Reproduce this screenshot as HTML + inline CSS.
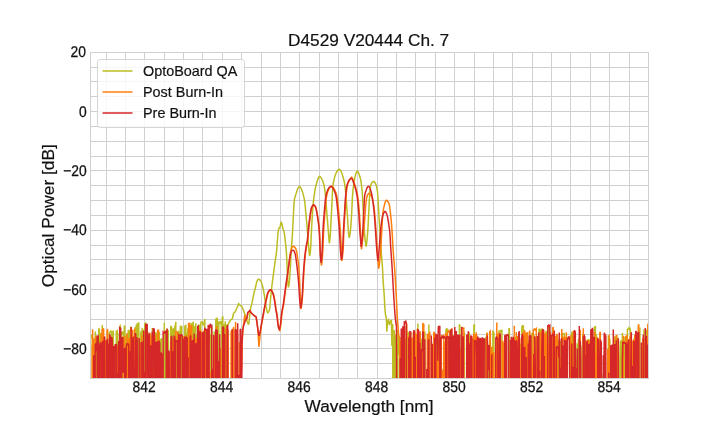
<!DOCTYPE html>
<html lang="en"><head><meta charset="utf-8"><title>D4529 V20444 Ch. 7</title>
<style>html,body{margin:0;padding:0;background:#fff;overflow:hidden}svg{display:block}</style></head>
<body>
<svg width="720" height="432" viewBox="0 0 720 432">
<defs><clipPath id="ax"><rect x="90.0" y="51.84" width="558.0" height="326.15999999999997"/></clipPath></defs>
<rect width="720" height="432" fill="#ffffff"/>
<path d="M106.5 51.84V378.0M125.5 51.84V378.0M144.5 51.84V378.0M164.5 51.84V378.0M183.5 51.84V378.0M202.5 51.84V378.0M222.5 51.84V378.0M241.5 51.84V378.0M261.5 51.84V378.0M280.5 51.84V378.0M299.5 51.84V378.0M319.5 51.84V378.0M338.5 51.84V378.0M357.5 51.84V378.0M377.5 51.84V378.0M396.5 51.84V378.0M415.5 51.84V378.0M435.5 51.84V378.0M454.5 51.84V378.0M474.5 51.84V378.0M493.5 51.84V378.0M512.5 51.84V378.0M532.5 51.84V378.0M551.5 51.84V378.0M570.5 51.84V378.0M590.5 51.84V378.0M609.5 51.84V378.0M629.5 51.84V378.0M90.0 363.5H648.0M90.0 348.5H648.0M90.0 334.5H648.0M90.0 319.5H648.0M90.0 304.5H648.0M90.0 289.5H648.0M90.0 274.5H648.0M90.0 259.5H648.0M90.0 245.5H648.0M90.0 230.5H648.0M90.0 215.5H648.0M90.0 200.5H648.0M90.0 185.5H648.0M90.0 170.5H648.0M90.0 156.5H648.0M90.0 141.5H648.0M90.0 126.5H648.0M90.0 111.5H648.0M90.0 96.5H648.0M90.0 81.5H648.0M90.0 67.5H648.0" stroke="#d0d0d0" stroke-width="1" fill="none" shape-rendering="crispEdges"/>
<g clip-path="url(#ax)" fill="none" stroke-width="1.5" stroke-linejoin="miter" stroke-miterlimit="3" stroke-linecap="butt">
<path stroke="#bcbd22" d="M89.30 335.69L89.80 336.09L90.30 334.52L90.80 335.19L91.30 338.49L91.80 337.25L92.30 335.16L92.80 700.00L93.30 700.00L93.80 340.29L94.30 339.38L94.80 700.00L95.30 331.57L95.80 700.00L96.30 336.30L96.80 336.77L97.30 339.07L97.80 700.00L98.30 700.00L98.80 328.22L99.30 329.46L99.80 700.00L100.30 332.92L100.80 335.90L101.30 334.16L101.80 700.00L102.30 324.97L102.80 369.39L103.30 328.60L103.80 700.00L104.30 700.00L104.80 700.00L105.30 700.00L105.80 700.00L106.30 339.89L106.80 342.46L107.30 700.00L107.80 331.47L108.30 700.00L108.80 700.00L109.30 700.00L109.80 332.26L110.30 331.85L110.80 330.40L111.30 332.44L111.80 331.21L112.30 700.00L112.80 700.00L113.30 330.58L113.80 700.00L114.30 700.00L114.80 700.00L115.30 373.40L115.80 700.00L116.30 331.34L116.80 331.37L117.30 330.79L117.80 700.00L118.30 371.99L118.80 700.00L119.30 332.96L119.80 700.00L120.30 324.51L120.80 700.00L121.30 333.78L121.80 331.78L122.30 334.40L122.80 332.09L123.30 332.25L123.80 700.00L124.30 326.27L124.80 326.57L125.30 700.00L125.80 338.06L126.30 335.96L126.80 334.61L127.30 336.78L127.80 700.00L128.30 329.64L128.80 333.30L129.30 331.08L129.80 331.79L130.30 700.00L130.80 326.62L131.30 700.00L131.80 700.00L132.30 332.51L132.80 700.00L133.30 338.37L133.80 339.33L134.30 335.60L134.80 700.00L135.30 327.07L135.80 700.00L136.30 324.66L136.80 325.61L137.30 323.28L137.80 700.00L138.30 700.00L138.80 322.30L139.30 700.00L139.80 700.00L140.30 700.00L140.80 331.29L141.30 700.00L141.80 332.09L142.30 328.84L142.80 329.34L143.30 700.00L143.80 331.69L144.30 700.00L144.80 324.38L145.30 324.72L145.80 322.53L146.30 700.00L146.80 333.23L147.30 331.93L147.80 332.16L148.30 700.00L148.80 337.31L149.30 335.60L149.80 335.63L150.30 700.00L150.80 700.00L151.30 335.88L151.80 700.00L152.30 327.88L152.80 700.00L153.30 336.23L153.80 335.98L154.30 700.00L154.80 332.28L155.30 361.55L155.80 700.00L156.30 333.20L156.80 333.47L157.30 700.00L157.80 335.37L158.30 334.02L158.80 700.00L159.30 332.11L159.80 700.00L160.30 342.41L160.80 339.75L161.30 339.95L161.80 338.02L162.30 700.00L162.80 700.00L163.30 700.00L163.80 700.00L164.30 322.64L164.80 700.00L165.30 700.00L165.80 331.61L166.30 331.42L166.80 329.83L167.30 330.65L167.80 331.76L168.30 330.09L168.80 700.00L169.30 700.00L169.80 700.00L170.30 700.00L170.80 325.82L171.30 327.08L171.80 327.79L172.30 700.00L172.80 329.79L173.30 329.13L173.80 329.64L174.30 700.00L174.80 325.56L175.30 328.08L175.80 321.72L176.30 700.00L176.80 700.00L177.30 336.15L177.80 333.64L178.30 330.85L178.80 332.23L179.30 334.72L179.80 700.00L180.30 325.86L180.80 700.00L181.30 329.07L181.80 325.77L182.30 700.00L182.80 700.00L183.30 338.29L183.80 338.86L184.30 700.00L184.80 326.89L185.30 325.62L185.80 325.36L186.30 700.00L186.80 332.82L187.30 361.98L187.80 329.03L188.30 328.23L188.80 330.85L189.30 327.74L189.80 700.00L190.30 700.00L190.80 700.00L191.30 323.87L191.80 324.15L192.30 323.60L192.80 700.00L193.30 321.56L193.80 700.00L194.30 328.77L194.80 326.11L195.30 700.00L195.80 323.21L196.30 700.00L196.80 334.63L197.30 700.00L197.80 700.00L198.30 327.77L198.80 700.00L199.30 324.53L199.80 371.02L200.30 700.00L200.80 323.19L201.30 321.78L201.80 322.00L202.30 322.19L202.80 324.41L203.30 324.14L203.80 324.81L204.30 321.72L204.80 319.08L205.30 700.00L205.80 330.35L206.30 329.72L206.80 700.00L207.30 335.67L207.80 337.20L208.30 336.50L208.80 337.69L209.30 338.12L209.80 335.68L210.30 335.87L210.80 700.00L211.30 326.26L211.80 326.75L212.30 700.00L212.80 700.00L213.30 700.00L213.80 700.00L214.30 331.52L214.80 700.00L215.30 700.00L215.80 318.54L216.30 700.00L216.80 317.79L217.30 318.77L217.80 700.00L218.30 700.00L218.80 321.55L219.30 322.23L219.80 322.13L220.30 323.99L220.80 321.83L221.30 322.25L221.80 700.00L222.30 317.33L222.80 317.10L223.30 700.00L223.80 325.11L224.30 325.58L224.80 328.39L225.30 321.40L225.80 700.00L226.30 700.00L226.80 325.08L227.70 325.00L230.60 320.00L232.50 318.50L233.50 313.30L235.20 311.70L236.80 308.30L238.70 303.75L240.20 305.40L241.80 306.25L243.10 309.20L244.30 312.50L245.60 316.70L247.25 321.70L248.50 324.60L248.90 322.66L249.30 320.03L249.69 316.11L250.09 311.86L250.49 309.18L250.89 307.18L251.29 305.68L251.68 304.36L252.08 302.66L252.48 300.70L252.88 298.63L253.28 296.57L253.67 294.65L254.07 292.91L254.47 291.27L254.87 289.68L255.26 288.12L255.66 286.55L256.06 284.85L256.46 282.97L256.86 281.39L257.25 280.56L257.65 279.99L258.05 279.55L258.45 279.27L258.85 279.21L259.24 279.34L259.64 279.63L260.04 280.01L260.44 280.44L260.84 281.08L261.23 281.99L261.63 283.11L262.03 284.39L262.43 285.75L262.83 287.25L263.22 289.05L263.62 291.09L264.02 293.27L264.42 295.64L264.81 298.46L265.21 301.42L265.61 304.12L266.01 306.27L266.41 308.22L266.80 309.98L267.20 311.52L267.60 312.80L268.00 312.64L268.40 312.18L268.81 311.45L269.21 310.47L269.61 309.27L270.01 306.03L270.41 300.75L270.82 295.85L271.22 292.00L271.62 288.41L272.02 284.99L272.42 281.74L272.83 278.62L273.23 275.56L273.63 272.53L274.03 269.57L274.43 266.64L274.83 263.71L275.24 260.83L275.64 258.19L276.04 255.49L276.44 252.38L276.84 248.34L277.25 242.47L277.65 237.20L278.05 232.58L278.45 229.99L278.85 228.55L279.26 227.65L279.66 227.18L280.06 226.74L280.46 225.38L280.86 222.93L281.27 222.40L281.67 223.32L282.07 224.69L282.47 226.77L282.87 228.92L283.27 229.78L283.68 230.51L284.08 231.92L284.48 234.06L284.88 237.11L285.28 241.19L285.69 244.70L286.09 248.19L286.49 253.80L286.89 262.28L287.29 271.05L287.70 280.26L288.10 285.20L288.50 287.40L288.90 285.49L289.30 282.47L289.69 277.77L290.09 271.74L290.49 265.12L290.89 256.93L291.29 249.43L291.68 244.10L292.08 238.83L292.48 232.96L292.88 225.68L293.28 217.45L293.68 209.28L294.07 203.27L294.47 199.47L294.87 197.58L295.27 196.25L295.67 194.93L296.06 193.63L296.46 192.40L296.86 191.23L297.26 190.06L297.66 189.01L298.05 188.21L298.45 187.51L298.85 186.89L299.25 186.48L299.65 186.43L300.05 186.76L300.44 187.34L300.84 188.03L301.24 188.75L301.64 189.65L302.04 190.71L302.43 191.88L302.83 193.13L303.23 194.57L303.63 196.19L304.03 197.91L304.42 199.84L304.82 202.42L305.22 206.39L305.62 211.00L306.02 215.26L306.42 219.35L306.81 223.52L307.21 227.96L307.61 233.00L308.01 238.59L308.41 243.89L308.80 248.36L309.20 252.41L309.60 256.00L310.00 254.47L310.40 250.83L310.81 245.45L311.21 236.17L311.61 228.01L312.01 220.77L312.41 214.13L312.82 207.90L313.22 203.08L313.62 199.63L314.02 196.59L314.42 193.84L314.83 191.16L315.23 188.86L315.63 187.03L316.03 185.43L316.43 183.97L316.84 182.57L317.24 181.13L317.64 179.76L318.04 178.63L318.44 177.83L318.85 177.10L319.25 176.57L319.65 176.40L320.05 176.59L320.46 177.00L320.86 177.53L321.26 178.08L321.66 178.72L322.06 179.50L322.47 180.41L322.87 181.44L323.27 182.64L323.67 184.06L324.07 185.73L324.48 187.75L324.88 190.46L325.28 193.82L325.68 198.27L326.08 203.32L326.49 208.66L326.89 213.76L327.29 218.37L327.69 223.14L328.09 228.35L328.50 233.45L328.90 238.41L329.30 243.25L329.70 241.50L330.10 237.40L330.49 232.08L330.89 223.38L331.29 215.78L331.69 208.74L332.09 199.64L332.48 191.00L332.88 185.80L333.28 183.18L333.68 181.10L334.08 179.37L334.47 177.84L334.87 176.41L335.27 175.13L335.67 174.08L336.07 173.19L336.46 172.40L336.86 171.69L337.26 171.00L337.66 170.38L338.06 169.95L338.45 169.63L338.85 169.38L339.25 169.30L339.65 169.46L340.05 169.80L340.44 170.24L340.84 170.86L341.24 171.79L341.64 172.79L342.04 173.83L342.43 174.99L342.83 176.26L343.23 177.68L343.63 179.21L344.03 180.79L344.42 182.51L344.82 184.81L345.22 188.26L345.62 192.26L346.02 196.91L346.41 202.14L346.81 207.48L347.21 212.71L347.61 218.51L348.01 225.63L348.40 231.17L348.80 235.14L349.20 237.80L349.60 236.45L350.00 234.01L350.41 230.94L350.81 226.66L351.21 220.83L351.61 214.16L352.02 206.01L352.42 197.27L352.82 191.99L353.22 188.13L353.63 185.03L354.03 182.40L354.43 180.10L354.83 177.96L355.24 175.92L355.64 174.27L356.04 173.20L356.44 172.27L356.85 171.57L357.25 171.25L357.65 171.44L358.05 172.00L358.45 172.72L358.86 173.59L359.26 174.74L359.66 175.99L360.06 177.30L360.47 178.85L360.87 180.88L361.27 183.45L361.67 186.80L362.08 190.80L362.48 195.69L362.88 203.48L363.28 212.38L363.69 220.23L364.09 227.55L364.49 233.06L364.89 237.59L365.30 241.55L365.70 244.65L366.10 246.60L366.50 244.47L366.90 241.13L367.29 236.89L367.69 232.10L368.09 225.79L368.49 217.89L368.89 209.98L369.28 201.51L369.68 194.88L370.08 190.07L370.48 187.07L370.88 185.18L371.27 183.78L371.67 182.94L372.07 182.46L372.47 182.05L372.87 181.74L373.26 181.55L373.66 181.50L374.06 181.66L374.46 182.02L374.86 182.54L375.25 183.18L375.65 183.92L376.05 184.79L376.45 186.13L376.85 187.89L377.25 190.07L377.64 193.25L378.04 198.05L378.44 206.31L378.84 214.19L379.24 220.49L379.63 226.38L380.03 232.51L380.43 239.28L380.83 246.19L381.23 252.45L381.62 257.43L382.02 261.79L382.42 266.80L382.82 274.24L383.22 282.25L383.61 287.55L384.01 292.33L384.41 298.86L384.81 307.10L385.21 312.11L385.60 315.02L386.00 317.05L386.40 318.30L386.80 331.70L387.60 321.50L388.50 320.00L389.30 325.00L390.30 321.50L391.40 320.00L391.90 346.00L392.70 324.00L393.50 700.00L394.30 330.00L395.00 700.00L395.70 335.00L396.20 700.00L396.90 344.27L397.40 700.00L397.90 330.06L398.40 354.73L398.90 335.87L399.40 337.75L399.90 337.09L400.40 700.00L400.90 700.00L401.40 344.47L401.90 342.91L402.40 343.65L402.90 700.00L403.40 700.00L403.90 373.28L404.40 342.14L404.90 700.00L405.40 381.50L405.90 338.34L406.40 700.00L406.90 700.00L407.40 700.00L407.90 332.38L408.40 332.76L408.90 361.05L409.40 700.00L409.90 340.37L410.40 700.00L410.90 700.00L411.40 340.94L411.90 339.49L412.40 340.82L412.90 340.87L413.40 700.00L413.90 336.40L414.40 336.62L414.90 700.00L415.40 700.00L415.90 334.58L416.40 372.59L416.90 700.00L417.40 700.00L417.90 323.46L418.40 700.00L418.90 700.00L419.40 700.00L419.90 700.00L420.40 700.00L420.90 700.00L421.40 340.50L421.90 339.10L422.40 352.59L422.90 332.79L423.40 334.79L423.90 700.00L424.40 700.00L424.90 331.39L425.40 700.00L425.90 700.00L426.40 700.00L426.90 700.00L427.40 700.00L427.90 700.00L428.40 700.00L428.90 324.56L429.40 700.00L429.90 700.00L430.40 700.00L430.90 700.00L431.40 700.00L431.90 700.00L432.40 700.00L432.90 700.00L433.40 700.00L433.90 700.00L434.40 700.00L434.90 700.00L435.40 700.00L435.90 700.00L436.40 339.12L436.90 338.83L437.40 700.00L437.90 700.00L438.40 700.00L438.90 700.00L439.40 343.95L439.90 343.79L440.40 356.97L440.90 700.00L441.40 700.00L441.90 700.00L442.40 700.00L442.90 381.29L443.40 380.89L443.90 700.00L444.40 700.00L444.90 700.00L445.40 700.00L445.90 330.05L446.40 329.24L446.90 329.42L447.40 328.40L447.90 700.00L448.40 345.94L448.90 700.00L449.40 700.00L449.90 331.73L450.40 329.51L450.90 700.00L451.40 339.97L451.90 339.58L452.40 338.52L452.90 700.00L453.40 335.43L453.90 700.00L454.40 339.51L454.90 700.00L455.40 700.00L455.90 700.00L456.40 700.00L456.90 337.40L457.40 700.00L457.90 700.00L458.40 700.00L458.90 700.00L459.40 325.01L459.90 325.36L460.40 700.00L460.90 700.00L461.40 700.00L461.90 340.63L462.40 700.00L462.90 369.41L463.40 700.00L463.90 700.00L464.40 332.31L464.90 700.00L465.40 700.00L465.90 700.00L466.40 700.00L466.90 700.00L467.40 700.00L467.90 700.00L468.40 700.00L468.90 332.53L469.40 333.06L469.90 700.00L470.40 341.85L470.90 700.00L471.40 700.00L471.90 375.03L472.40 700.00L472.90 700.00L473.40 700.00L473.90 325.13L474.40 324.89L474.90 700.00L475.40 700.00L475.90 700.00L476.40 338.47L476.90 700.00L477.40 700.00L477.90 700.00L478.40 700.00L478.90 700.00L479.40 700.00L479.90 700.00L480.40 700.00L480.90 700.00L481.40 700.00L481.90 700.00L482.40 700.00L482.90 700.00L483.40 370.80L483.90 700.00L484.40 700.00L484.90 700.00L485.40 338.47L485.90 337.00L486.40 700.00L486.90 332.85L487.40 700.00L487.90 700.00L488.40 347.46L488.90 700.00L489.40 344.10L489.90 700.00L490.40 342.57L490.90 700.00L491.40 700.00L491.90 700.00L492.40 700.00L492.90 331.33L493.40 331.65L493.90 332.94L494.40 700.00L494.90 700.00L495.40 700.00L495.90 700.00L496.40 700.00L496.90 700.00L497.40 700.00L497.90 700.00L498.40 700.00L498.90 331.14L499.40 331.12L499.90 331.58L500.40 329.91L500.90 331.43L501.40 330.63L501.90 330.53L502.40 700.00L502.90 700.00L503.40 700.00L503.90 700.00L504.40 352.69L504.90 350.97L505.40 700.00L505.90 342.36L506.40 342.90L506.90 700.00L507.40 700.00L507.90 700.00L508.40 700.00L508.90 327.90L509.40 329.46L509.90 700.00L510.40 700.00L510.90 360.71L511.40 700.00L511.90 700.00L512.40 337.65L512.90 700.00L513.40 337.51L513.90 700.00L514.40 338.01L514.90 700.00L515.40 338.82L515.90 337.83L516.40 338.87L516.90 700.00L517.40 353.74L517.90 700.00L518.40 700.00L518.90 700.00L519.40 700.00L519.90 700.00L520.40 343.80L520.90 346.10L521.40 357.08L521.90 326.50L522.40 325.95L522.90 328.15L523.40 325.31L523.90 700.00L524.40 370.92L524.90 700.00L525.40 345.91L525.90 345.36L526.40 345.46L526.90 344.09L527.40 700.00L527.90 700.00L528.40 340.07L528.90 700.00L529.40 700.00L529.90 700.00L530.40 335.95L530.90 337.12L531.40 700.00L531.90 332.80L532.40 334.44L532.90 334.13L533.40 335.87L533.90 334.21L534.40 700.00L534.90 700.00L535.40 337.79L535.90 700.00L536.40 700.00L536.90 700.00L537.40 364.36L537.90 336.35L538.40 366.01L538.90 329.43L539.40 329.30L539.90 329.33L540.40 330.60L540.90 700.00L541.40 358.06L541.90 328.32L542.40 700.00L542.90 340.28L543.40 700.00L543.90 340.96L544.40 700.00L544.90 363.74L545.40 384.09L545.90 330.96L546.40 332.30L546.90 700.00L547.40 375.46L547.90 327.37L548.40 326.98L548.90 327.64L549.40 327.25L549.90 700.00L550.40 700.00L550.90 700.00L551.40 700.00L551.90 700.00L552.40 700.00L552.90 700.00L553.40 700.00L553.90 700.00L554.40 368.24L554.90 361.50L555.40 357.65L555.90 342.37L556.40 342.72L556.90 340.76L557.40 340.56L557.90 339.85L558.40 340.83L558.90 382.26L559.40 342.21L559.90 342.92L560.40 342.01L560.90 342.80L561.40 700.00L561.90 700.00L562.40 334.03L562.90 334.36L563.40 333.72L563.90 333.54L564.40 334.45L564.90 700.00L565.40 700.00L565.90 700.00L566.40 700.00L566.90 374.60L567.40 336.82L567.90 700.00L568.40 700.00L568.90 700.00L569.40 700.00L569.90 365.12L570.40 700.00L570.90 700.00L571.40 334.39L571.90 332.61L572.40 333.45L572.90 700.00L573.40 372.71L573.90 342.76L574.40 342.83L574.90 342.96L575.40 342.12L575.90 363.67L576.40 700.00L576.90 700.00L577.40 343.28L577.90 700.00L578.40 339.86L578.90 339.00L579.40 700.00L579.90 700.00L580.40 700.00L580.90 345.87L581.40 700.00L581.90 700.00L582.40 700.00L582.90 333.78L583.40 700.00L583.90 700.00L584.40 700.00L584.90 700.00L585.40 700.00L585.90 700.00L586.40 700.00L586.90 375.43L587.40 700.00L587.90 339.35L588.40 340.08L588.90 700.00L589.40 339.32L589.90 700.00L590.40 700.00L590.90 700.00L591.40 700.00L591.90 700.00L592.40 700.00L592.90 350.86L593.40 700.00L593.90 700.00L594.40 327.20L594.90 327.04L595.40 325.96L595.90 700.00L596.40 334.04L596.90 700.00L597.40 700.00L597.90 359.23L598.40 342.51L598.90 342.79L599.40 343.02L599.90 700.00L600.40 700.00L600.90 366.86L601.40 700.00L601.90 374.47L602.40 700.00L602.90 700.00L603.40 700.00L603.90 700.00L604.40 700.00L604.90 700.00L605.40 700.00L605.90 700.00L606.40 700.00L606.90 384.94L607.40 700.00L607.90 700.00L608.40 335.46L608.90 700.00L609.40 338.48L609.90 339.68L610.40 700.00L610.90 700.00L611.40 700.00L611.90 700.00L612.40 700.00L612.90 700.00L613.40 700.00L613.90 700.00L614.40 361.79L614.90 336.23L615.40 337.21L615.90 379.34L616.40 700.00L616.90 374.78L617.40 337.39L617.90 339.75L618.40 700.00L618.90 700.00L619.40 700.00L619.90 359.60L620.40 341.54L620.90 341.78L621.40 341.25L621.90 700.00L622.40 332.89L622.90 700.00L623.40 700.00L623.90 345.61L624.40 700.00L624.90 337.34L625.40 337.14L625.90 363.82L626.40 342.31L626.90 700.00L627.40 329.33L627.90 329.12L628.40 329.19L628.90 328.02L629.40 328.92L629.90 328.39L630.40 329.89L630.90 700.00L631.40 348.50L631.90 349.84L632.40 700.00L632.90 700.00L633.40 340.53L633.90 338.64L634.40 700.00L634.90 345.04L635.40 344.17L635.90 700.00L636.40 700.00L636.90 700.00L637.40 700.00L637.90 334.57L638.40 336.07L638.90 334.97L639.40 700.00L639.90 327.49L640.40 700.00L640.90 700.00L641.40 700.00L641.90 700.00L642.40 700.00L642.90 700.00L643.40 700.00L643.90 329.22L644.40 700.00L644.90 343.10L645.40 343.92L645.90 700.00L646.40 329.83L646.90 330.82L647.40 329.76L647.90 329.76L648.40 700.00L648.90 700.00"/>
<path stroke="#ff7f0e" d="M89.60 342.97L90.10 342.90L90.60 345.60L91.10 700.00L91.60 700.00L92.10 700.00L92.60 329.14L93.10 700.00L93.60 338.02L94.10 700.00L94.60 700.00L95.10 700.00L95.60 335.93L96.10 700.00L96.60 700.00L97.10 700.00L97.60 700.00L98.10 700.00L98.60 347.79L99.10 700.00L99.60 373.55L100.10 700.00L100.60 700.00L101.10 333.47L101.60 700.00L102.10 329.20L102.60 330.21L103.10 328.77L103.60 329.08L104.10 700.00L104.60 700.00L105.10 342.48L105.60 341.29L106.10 342.48L106.60 700.00L107.10 330.74L107.60 328.94L108.10 700.00L108.60 700.00L109.10 700.00L109.60 700.00L110.10 700.00L110.60 700.00L111.10 700.00L111.60 700.00L112.10 337.76L112.60 700.00L113.10 700.00L113.60 700.00L114.10 351.28L114.60 700.00L115.10 700.00L115.60 700.00L116.10 700.00L116.60 363.43L117.10 346.72L117.60 361.52L118.10 700.00L118.60 700.00L119.10 700.00L119.60 700.00L120.10 700.00L120.60 700.00L121.10 339.23L121.60 339.40L122.10 340.74L122.60 700.00L123.10 700.00L123.60 700.00L124.10 337.10L124.60 336.18L125.10 700.00L125.60 700.00L126.10 349.61L126.60 700.00L127.10 332.90L127.60 700.00L128.10 700.00L128.60 339.37L129.10 337.74L129.60 358.42L130.10 700.00L130.60 329.50L131.10 328.73L131.60 330.77L132.10 330.60L132.60 330.52L133.10 700.00L133.60 700.00L134.10 700.00L134.60 328.54L135.10 700.00L135.60 700.00L136.10 359.93L136.60 700.00L137.10 384.47L137.60 700.00L138.10 700.00L138.60 700.00L139.10 700.00L139.60 700.00L140.10 344.64L140.60 343.59L141.10 700.00L141.60 335.23L142.10 700.00L142.60 700.00L143.10 354.18L143.60 700.00L144.10 700.00L144.60 700.00L145.10 700.00L145.60 700.00L146.10 700.00L146.60 361.60L147.10 336.12L147.60 337.22L148.10 340.31L148.60 337.23L149.10 358.17L149.60 332.64L150.10 334.27L150.60 335.50L151.10 700.00L151.60 361.93L152.10 339.20L152.60 700.00L153.10 700.00L153.60 700.00L154.10 700.00L154.60 700.00L155.10 334.98L155.60 700.00L156.10 700.00L156.60 372.66L157.10 700.00L157.60 329.82L158.10 331.86L158.60 329.41L159.10 700.00L159.60 700.00L160.10 700.00L160.60 700.00L161.10 700.00L161.60 370.30L162.10 700.00L162.60 700.00L163.10 700.00L163.60 700.00L164.10 700.00L164.60 700.00L165.10 700.00L165.60 700.00L166.10 700.00L166.60 700.00L167.10 700.00L167.60 377.72L168.10 700.00L168.60 700.00L169.10 700.00L169.60 371.03L170.10 700.00L170.60 341.01L171.10 700.00L171.60 700.00L172.10 700.00L172.60 700.00L173.10 337.65L173.60 700.00L174.10 700.00L174.60 359.16L175.10 700.00L175.60 330.95L176.10 332.58L176.60 332.59L177.10 332.18L177.60 332.87L178.10 700.00L178.60 336.14L179.10 700.00L179.60 335.90L180.10 700.00L180.60 700.00L181.10 700.00L181.60 700.00L182.10 700.00L182.60 337.31L183.10 335.88L183.60 700.00L184.10 363.02L184.60 700.00L185.10 700.00L185.60 700.00L186.10 335.18L186.60 700.00L187.10 345.89L187.60 346.55L188.10 369.48L188.60 323.71L189.10 323.60L189.60 323.49L190.10 700.00L190.60 325.47L191.10 326.31L191.60 325.47L192.10 700.00L192.60 700.00L193.10 700.00L193.60 700.00L194.10 700.00L194.60 338.27L195.10 339.20L195.60 339.47L196.10 337.98L196.60 700.00L197.10 700.00L197.60 700.00L198.10 700.00L198.60 700.00L199.10 700.00L199.60 330.76L200.10 329.16L200.60 700.00L201.10 331.56L201.60 332.37L202.10 700.00L202.60 700.00L203.10 700.00L203.60 330.76L204.10 331.89L204.60 330.70L205.10 380.32L205.60 338.37L206.10 339.27L206.60 339.08L207.10 337.92L207.60 340.77L208.10 375.16L208.60 377.12L209.10 700.00L209.60 700.00L210.10 371.41L210.60 700.00L211.10 700.00L211.60 700.00L212.10 700.00L212.60 700.00L213.10 700.00L213.60 700.00L214.10 700.00L214.60 337.17L215.10 336.88L215.60 337.58L216.10 700.00L216.60 326.08L217.10 700.00L217.60 700.00L218.10 700.00L218.60 700.00L219.10 700.00L219.60 700.00L220.10 349.25L220.60 347.95L221.10 700.00L221.60 700.00L222.10 700.00L222.60 340.47L223.10 700.00L223.60 700.00L224.10 700.00L224.60 700.00L225.10 700.00L225.60 700.00L226.10 327.59L226.60 328.61L227.10 350.70L227.60 700.00L228.10 329.41L228.60 700.00L229.10 700.00L229.60 700.00L230.10 700.00L230.60 700.00L231.10 331.96L231.60 330.83L232.10 330.14L232.60 328.85L233.10 700.00L233.60 326.64L234.10 700.00L234.60 700.00L235.10 700.00L235.60 322.07L236.10 700.00L236.60 700.00L237.10 700.00L237.60 335.11L238.10 700.00L238.60 700.00L239.10 700.00L239.60 343.03L240.10 343.03L240.60 700.00L241.10 354.74L241.60 370.77L242.30 340.00L243.20 327.00L244.75 315.00L245.40 321.00L247.00 318.50L248.00 313.00L250.00 311.00L251.30 313.00L253.00 314.50L254.60 316.00L256.20 317.00L257.00 322.00L257.90 329.00L258.90 347.00L259.30 342.90L259.70 339.07L260.10 335.50L260.50 332.20L260.90 329.17L261.31 326.43L261.71 323.97L262.11 321.66L262.51 319.52L262.91 317.51L263.31 315.47L263.71 313.27L264.11 310.96L264.51 308.75L264.91 306.73L265.32 304.81L265.72 302.96L266.12 301.17L266.52 299.44L266.92 297.63L267.32 295.75L267.72 294.08L268.12 292.86L268.52 292.10L268.92 291.41L269.32 290.80L269.73 290.31L270.13 289.95L270.53 289.77L270.93 289.79L271.33 290.07L271.73 290.56L272.13 291.22L272.53 292.01L272.93 292.89L273.33 293.84L273.74 295.21L274.14 296.99L274.54 299.04L274.94 301.21L275.34 303.84L275.74 306.81L276.14 309.56L276.54 311.82L276.94 313.96L277.34 316.41L277.75 319.90L278.15 323.92L278.55 326.60L278.95 328.62L279.35 330.18L279.75 331.00L280.15 329.17L280.55 326.67L280.95 323.71L281.35 319.77L281.75 315.45L282.14 312.58L282.54 310.24L282.94 308.07L283.34 306.16L283.74 304.05L284.14 301.24L284.54 298.02L284.94 294.78L285.34 291.71L285.74 288.67L286.13 285.75L286.53 283.10L286.93 280.57L287.33 277.91L287.73 274.91L288.13 271.57L288.53 268.07L288.93 264.61L289.33 261.08L289.73 257.44L290.13 254.43L290.52 252.28L290.92 250.40L291.32 248.92L291.72 247.96L292.12 247.32L292.52 246.78L292.92 246.39L293.32 246.21L293.72 246.27L294.12 246.54L294.52 246.95L294.91 247.46L295.31 248.02L295.71 248.74L296.11 249.74L296.51 251.04L296.91 253.12L297.31 255.93L297.71 258.75L298.11 261.15L298.51 264.05L298.90 268.78L299.30 275.06L299.70 283.31L300.10 292.17L300.50 300.61L300.90 309.00L301.30 307.52L301.70 304.70L302.11 301.03L302.51 296.56L302.91 289.99L303.31 282.38L303.71 274.38L304.12 268.46L304.52 263.34L304.92 258.91L305.32 255.10L305.72 251.87L306.13 249.09L306.53 246.67L306.93 244.39L307.33 242.44L307.73 240.09L308.14 235.82L308.54 231.22L308.94 227.42L309.34 223.92L309.74 220.66L310.15 217.58L310.55 214.45L310.95 211.65L311.35 209.71L311.75 208.40L312.15 207.38L312.56 206.66L312.96 206.14L313.36 205.71L313.76 205.42L314.16 205.37L314.57 205.63L314.97 206.12L315.37 206.71L315.77 207.54L316.17 208.69L316.58 210.22L316.98 212.36L317.38 214.78L317.78 217.17L318.18 219.64L318.59 222.41L318.99 225.72L319.39 229.84L319.79 236.21L320.19 246.55L320.60 255.01L321.00 261.04L321.40 265.50L321.80 263.89L322.20 259.90L322.59 254.34L322.99 247.95L323.39 237.23L323.79 228.55L324.19 222.38L324.58 217.01L324.98 212.06L325.38 207.57L325.78 203.01L326.18 198.91L326.57 196.42L326.97 194.58L327.37 193.12L327.77 191.86L328.17 190.72L328.56 189.73L328.96 188.90L329.36 188.26L329.76 187.75L330.16 187.33L330.55 186.95L330.95 186.53L331.35 186.23L331.75 186.24L332.15 186.44L332.55 186.78L332.94 187.21L333.34 187.69L333.74 188.18L334.14 188.80L334.54 189.56L334.93 190.41L335.33 191.29L335.73 192.22L336.13 193.29L336.53 194.59L336.92 196.34L337.32 198.64L337.72 201.86L338.12 205.69L338.52 209.62L338.91 213.83L339.31 218.28L339.71 222.91L340.11 227.87L340.51 233.59L340.90 239.80L341.30 247.70L341.70 261.00L342.10 259.84L342.49 256.78L342.89 252.39L343.28 247.06L343.68 237.10L344.08 228.22L344.47 221.10L344.87 214.55L345.26 208.02L345.66 201.58L346.06 196.19L346.45 192.04L346.85 188.58L347.24 186.20L347.64 184.57L348.04 183.28L348.43 182.23L348.83 181.34L349.22 180.60L349.62 179.98L350.02 179.41L350.41 178.82L350.81 178.11L351.20 177.48L351.60 177.20L352.00 177.48L352.39 178.18L352.79 179.09L353.18 179.99L353.58 181.00L353.98 182.17L354.37 183.37L354.77 184.55L355.16 185.76L355.56 187.02L355.96 188.36L356.35 189.81L356.75 191.36L357.14 193.04L357.54 195.05L357.94 197.64L358.33 201.06L358.73 205.19L359.12 209.86L359.52 215.06L359.92 221.58L360.31 228.71L360.71 235.56L361.10 242.39L361.50 249.30L361.90 246.19L362.30 242.92L362.70 239.48L363.10 235.91L363.50 232.24L363.90 228.44L364.30 224.35L364.70 219.76L365.10 213.80L365.50 207.74L365.90 203.43L366.30 200.18L366.70 197.59L367.10 196.00L367.50 195.09L367.90 194.32L368.30 193.74L368.70 193.38L369.10 193.31L369.50 193.51L369.90 193.91L370.30 194.43L370.70 195.00L371.10 195.68L371.50 196.55L371.90 197.61L372.30 198.84L372.70 200.22L373.10 201.92L373.50 203.98L373.90 206.41L374.30 209.28L374.70 213.20L375.10 218.05L375.50 223.34L375.90 228.75L376.30 234.79L376.70 241.13L377.10 247.26L377.50 252.91L377.90 258.36L378.30 263.63L378.70 268.70L379.10 266.64L379.50 263.50L379.91 259.50L380.31 254.88L380.71 249.87L381.11 243.22L381.51 235.36L381.92 228.12L382.32 220.64L382.72 214.49L383.12 211.10L383.52 208.86L383.93 207.11L384.33 205.46L384.73 203.80L385.13 202.37L385.54 201.44L385.94 200.82L386.34 200.36L386.74 200.20L387.14 200.45L387.55 200.99L387.95 201.62L388.35 202.26L388.75 203.06L389.15 204.15L389.56 206.05L389.96 209.01L390.36 212.37L390.76 215.94L391.16 220.06L391.57 224.74L391.97 230.11L392.37 236.42L392.77 243.87L393.18 250.94L393.58 256.34L393.98 260.75L394.38 265.20L394.78 270.62L395.19 276.98L395.59 283.94L395.99 291.19L396.39 298.64L396.79 306.93L397.20 314.97L397.60 321.35L398.00 326.00L398.80 337.05L399.30 337.88L399.80 337.98L400.30 700.00L400.80 340.91L401.30 700.00L401.80 344.17L402.30 346.60L402.80 345.79L403.30 346.94L403.80 700.00L404.30 362.52L404.80 326.33L405.30 700.00L405.80 700.00L406.30 700.00L406.80 323.39L407.30 700.00L407.80 700.00L408.30 700.00L408.80 335.73L409.30 380.53L409.80 382.67L410.30 700.00L410.80 376.48L411.30 338.81L411.80 338.46L412.30 368.89L412.80 700.00L413.30 332.00L413.80 335.40L414.30 332.87L414.80 332.26L415.30 334.41L415.80 334.42L416.30 700.00L416.80 700.00L417.30 328.84L417.80 329.79L418.30 700.00L418.80 333.18L419.30 700.00L419.80 700.00L420.30 331.14L420.80 700.00L421.30 700.00L421.80 700.00L422.30 700.00L422.80 323.03L423.30 324.22L423.80 324.45L424.30 700.00L424.80 700.00L425.30 700.00L425.80 700.00L426.30 700.00L426.80 700.00L427.30 334.80L427.80 335.22L428.30 333.76L428.80 700.00L429.30 700.00L429.80 331.46L430.30 700.00L430.80 700.00L431.30 700.00L431.80 373.72L432.30 700.00L432.80 700.00L433.30 700.00L433.80 332.74L434.30 331.81L434.80 700.00L435.30 700.00L435.80 700.00L436.30 351.71L436.80 353.28L437.30 354.28L437.80 700.00L438.30 700.00L438.80 340.84L439.30 339.40L439.80 338.65L440.30 339.35L440.80 700.00L441.30 334.90L441.80 700.00L442.30 369.53L442.80 700.00L443.30 700.00L443.80 334.61L444.30 700.00L444.80 341.67L445.30 700.00L445.80 334.05L446.30 334.24L446.80 700.00L447.30 333.07L447.80 331.77L448.30 331.65L448.80 330.78L449.30 332.49L449.80 332.22L450.30 331.70L450.80 700.00L451.30 329.68L451.80 329.32L452.30 700.00L452.80 343.75L453.30 341.93L453.80 342.81L454.30 700.00L454.80 368.94L455.30 700.00L455.80 700.00L456.30 346.28L456.80 353.58L457.30 700.00L457.80 369.29L458.30 700.00L458.80 700.00L459.30 700.00L459.80 700.00L460.30 349.57L460.80 348.24L461.30 700.00L461.80 327.68L462.30 327.58L462.80 328.34L463.30 328.13L463.80 328.10L464.30 700.00L464.80 700.00L465.30 700.00L465.80 700.00L466.30 700.00L466.80 700.00L467.30 700.00L467.80 700.00L468.30 337.36L468.80 338.39L469.30 700.00L469.80 700.00L470.30 700.00L470.80 700.00L471.30 700.00L471.80 338.39L472.30 338.66L472.80 339.09L473.30 700.00L473.80 334.53L474.30 334.92L474.80 334.64L475.30 334.62L475.80 700.00L476.30 332.31L476.80 700.00L477.30 700.00L477.80 700.00L478.30 700.00L478.80 700.00L479.30 700.00L479.80 342.59L480.30 700.00L480.80 700.00L481.30 700.00L481.80 700.00L482.30 700.00L482.80 700.00L483.30 700.00L483.80 700.00L484.30 700.00L484.80 700.00L485.30 700.00L485.80 700.00L486.30 359.61L486.80 333.69L487.30 332.97L487.80 700.00L488.30 700.00L488.80 700.00L489.30 700.00L489.80 331.59L490.30 331.09L490.80 700.00L491.30 700.00L491.80 346.76L492.30 700.00L492.80 700.00L493.30 352.21L493.80 353.76L494.30 700.00L494.80 700.00L495.30 700.00L495.80 700.00L496.30 700.00L496.80 322.50L497.30 700.00L497.80 700.00L498.30 333.56L498.80 335.28L499.30 333.03L499.80 336.46L500.30 700.00L500.80 700.00L501.30 700.00L501.80 700.00L502.30 341.40L502.80 340.74L503.30 700.00L503.80 700.00L504.30 342.45L504.80 700.00L505.30 700.00L505.80 700.00L506.30 334.49L506.80 700.00L507.30 700.00L507.80 700.00L508.30 700.00L508.80 700.00L509.30 700.00L509.80 700.00L510.30 352.46L510.80 354.76L511.30 700.00L511.80 700.00L512.30 338.84L512.80 338.36L513.30 700.00L513.80 700.00L514.30 325.65L514.80 700.00L515.30 700.00L515.80 700.00L516.30 332.10L516.80 700.00L517.30 700.00L517.80 335.87L518.30 700.00L518.80 700.00L519.30 337.61L519.80 339.10L520.30 368.87L520.80 700.00L521.30 700.00L521.80 700.00L522.30 700.00L522.80 332.22L523.30 700.00L523.80 700.00L524.30 330.81L524.80 331.31L525.30 700.00L525.80 700.00L526.30 332.71L526.80 700.00L527.30 331.88L527.80 700.00L528.30 700.00L528.80 700.00L529.30 332.31L529.80 330.60L530.30 369.99L530.80 337.04L531.30 372.60L531.80 700.00L532.30 700.00L532.80 367.05L533.30 330.07L533.80 330.18L534.30 328.95L534.80 329.21L535.30 329.83L535.80 329.12L536.30 328.59L536.80 700.00L537.30 351.84L537.80 350.59L538.30 350.50L538.80 700.00L539.30 700.00L539.80 364.92L540.30 332.81L540.80 333.40L541.30 333.20L541.80 700.00L542.30 700.00L542.80 700.00L543.30 700.00L543.80 330.13L544.30 361.18L544.80 334.37L545.30 333.78L545.80 334.04L546.30 700.00L546.80 700.00L547.30 335.55L547.80 336.57L548.30 700.00L548.80 700.00L549.30 343.50L549.80 700.00L550.30 331.98L550.80 700.00L551.30 346.31L551.80 700.00L552.30 700.00L552.80 327.77L553.30 327.66L553.80 700.00L554.30 700.00L554.80 700.00L555.30 382.39L555.80 336.63L556.30 335.97L556.80 334.03L557.30 336.37L557.80 700.00L558.30 700.00L558.80 700.00L559.30 700.00L559.80 700.00L560.30 357.65L560.80 700.00L561.30 369.50L561.80 329.12L562.30 700.00L562.80 337.28L563.30 338.01L563.80 338.95L564.30 336.62L564.80 337.79L565.30 338.42L565.80 700.00L566.30 332.28L566.80 365.18L567.30 700.00L567.80 700.00L568.30 383.13L568.80 700.00L569.30 700.00L569.80 700.00L570.30 700.00L570.80 335.36L571.30 358.43L571.80 700.00L572.30 700.00L572.80 700.00L573.30 330.96L573.80 700.00L574.30 331.02L574.80 331.91L575.30 700.00L575.80 700.00L576.30 700.00L576.80 700.00L577.30 700.00L577.80 700.00L578.30 700.00L578.80 700.00L579.30 700.00L579.80 700.00L580.30 329.81L580.80 700.00L581.30 700.00L581.80 700.00L582.30 700.00L582.80 700.00L583.30 328.32L583.80 700.00L584.30 338.69L584.80 340.30L585.30 700.00L585.80 700.00L586.30 341.52L586.80 340.84L587.30 341.59L587.80 342.53L588.30 341.86L588.80 340.97L589.30 341.60L589.80 700.00L590.30 358.23L590.80 700.00L591.30 700.00L591.80 333.63L592.30 332.14L592.80 700.00L593.30 700.00L593.80 340.09L594.30 700.00L594.80 331.87L595.30 700.00L595.80 352.72L596.30 700.00L596.80 338.02L597.30 337.17L597.80 700.00L598.30 700.00L598.80 700.00L599.30 700.00L599.80 332.96L600.30 331.76L600.80 700.00L601.30 700.00L601.80 700.00L602.30 700.00L602.80 700.00L603.30 700.00L603.80 700.00L604.30 700.00L604.80 700.00L605.30 333.99L605.80 700.00L606.30 700.00L606.80 700.00L607.30 700.00L607.80 349.00L608.30 362.70L608.80 700.00L609.30 334.84L609.80 700.00L610.30 348.47L610.80 347.94L611.30 348.27L611.80 348.75L612.30 700.00L612.80 368.11L613.30 700.00L613.80 336.99L614.30 700.00L614.80 361.59L615.30 700.00L615.80 700.00L616.30 335.66L616.80 335.75L617.30 700.00L617.80 359.44L618.30 344.56L618.80 700.00L619.30 700.00L619.80 700.00L620.30 700.00L620.80 700.00L621.30 700.00L621.80 700.00L622.30 700.00L622.80 700.00L623.30 335.63L623.80 700.00L624.30 700.00L624.80 700.00L625.30 700.00L625.80 336.51L626.30 336.21L626.80 335.74L627.30 700.00L627.80 341.67L628.30 700.00L628.80 700.00L629.30 700.00L629.80 336.44L630.30 700.00L630.80 333.46L631.30 332.56L631.80 700.00L632.30 340.64L632.80 371.24L633.30 341.08L633.80 339.86L634.30 366.76L634.80 334.45L635.30 700.00L635.80 342.18L636.30 342.31L636.80 700.00L637.30 700.00L637.80 700.00L638.30 326.09L638.80 324.30L639.30 700.00L639.80 700.00L640.30 700.00L640.80 700.00L641.30 700.00L641.80 700.00L642.30 700.00L642.80 337.94L643.30 338.97L643.80 339.27L644.30 700.00L644.80 700.00L645.30 700.00L645.80 700.00L646.30 700.00L646.80 700.00L647.30 700.00L647.80 323.68L648.30 381.62L648.80 700.00"/>
<path stroke="#d62728" d="M90.20 336.09L90.70 700.00L91.20 700.00L91.70 700.00L92.20 700.00L92.70 700.00L93.20 700.00L93.70 355.22L94.20 370.28L94.70 700.00L95.20 344.88L95.70 343.37L96.20 344.99L96.70 351.29L97.20 335.44L97.70 700.00L98.20 335.24L98.70 700.00L99.20 700.00L99.70 345.00L100.20 343.12L100.70 344.05L101.20 343.75L101.70 700.00L102.20 700.00L102.70 340.88L103.20 700.00L103.70 700.00L104.20 338.05L104.70 336.45L105.20 700.00L105.70 700.00L106.20 700.00L106.70 341.51L107.20 340.31L107.70 339.87L108.20 700.00L108.70 343.78L109.20 700.00L109.70 334.34L110.20 336.40L110.70 700.00L111.20 338.22L111.70 337.20L112.20 339.88L112.70 700.00L113.20 347.52L113.70 346.00L114.20 700.00L114.70 700.00L115.20 344.00L115.70 345.10L116.20 344.41L116.70 344.93L117.20 700.00L117.70 373.36L118.20 700.00L118.70 340.94L119.20 700.00L119.70 327.80L120.20 328.30L120.70 328.26L121.20 700.00L121.70 338.13L122.20 338.11L122.70 337.12L123.20 372.96L123.70 348.84L124.20 350.18L124.70 347.91L125.20 700.00L125.70 700.00L126.20 346.48L126.70 344.22L127.20 343.66L127.70 344.46L128.20 344.54L128.70 343.64L129.20 700.00L129.70 700.00L130.20 351.18L130.70 700.00L131.20 327.11L131.70 700.00L132.20 338.57L132.70 338.10L133.20 337.65L133.70 377.45L134.20 700.00L134.70 700.00L135.20 333.64L135.70 333.78L136.20 700.00L136.70 337.24L137.20 339.63L137.70 700.00L138.20 700.00L138.70 700.00L139.20 338.02L139.70 700.00L140.20 700.00L140.70 700.00L141.20 342.86L141.70 342.55L142.20 342.26L142.70 343.03L143.20 700.00L143.70 330.48L144.20 700.00L144.70 371.56L145.20 700.00L145.70 324.50L146.20 324.50L146.70 324.50L147.20 324.50L147.70 700.00L148.20 334.74L148.70 700.00L149.20 333.05L149.70 700.00L150.20 354.09L150.70 345.32L151.20 700.00L151.70 700.00L152.20 331.79L152.70 700.00L153.20 328.26L153.70 328.99L154.20 329.15L154.70 362.79L155.20 700.00L155.70 341.72L156.20 700.00L156.70 344.14L157.20 342.17L157.70 341.20L158.20 700.00L158.70 342.38L159.20 341.57L159.70 343.08L160.20 700.00L160.70 353.88L161.20 353.10L161.70 354.44L162.20 700.00L162.70 700.00L163.20 331.88L163.70 332.41L164.20 332.90L164.70 332.89L165.20 331.57L165.70 331.18L166.20 331.12L166.70 700.00L167.20 328.45L167.70 700.00L168.20 700.00L168.70 350.40L169.20 352.45L169.70 700.00L170.20 700.00L170.70 700.00L171.20 336.89L171.70 335.96L172.20 700.00L172.70 351.25L173.20 357.35L173.70 700.00L174.20 336.51L174.70 336.84L175.20 700.00L175.70 340.65L176.20 341.21L176.70 341.55L177.20 341.42L177.70 339.93L178.20 700.00L178.70 335.02L179.20 335.61L179.70 700.00L180.20 335.49L180.70 335.63L181.20 334.62L181.70 335.15L182.20 335.59L182.70 700.00L183.20 339.00L183.70 340.82L184.20 700.00L184.70 336.57L185.20 338.12L185.70 700.00L186.20 336.74L186.70 338.54L187.20 337.36L187.70 700.00L188.20 357.30L188.70 700.00L189.20 700.00L189.70 700.00L190.20 337.09L190.70 335.49L191.20 700.00L191.70 341.08L192.20 342.60L192.70 340.11L193.20 700.00L193.70 379.80L194.20 333.55L194.70 700.00L195.20 700.00L195.70 345.02L196.20 343.52L196.70 343.99L197.20 700.00L197.70 326.31L198.20 325.92L198.70 700.00L199.20 700.00L199.70 331.23L200.20 333.17L200.70 333.22L201.20 700.00L201.70 700.00L202.20 700.00L202.70 332.26L203.20 333.35L203.70 332.72L204.20 700.00L204.70 327.67L205.20 329.24L205.70 329.80L206.20 329.48L206.70 329.42L207.20 700.00L207.70 700.00L208.20 325.02L208.70 700.00L209.20 326.38L209.70 326.90L210.20 323.81L210.70 325.59L211.20 327.53L211.70 324.47L212.20 700.00L212.70 368.82L213.20 700.00L213.70 335.04L214.20 700.00L214.70 700.00L215.20 700.00L215.70 330.55L216.20 329.26L216.70 700.00L217.20 330.02L217.70 700.00L218.20 700.00L218.70 360.92L219.20 377.80L219.70 334.22L220.20 700.00L220.70 700.00L221.20 700.00L221.70 700.00L222.20 700.00L222.70 326.70L223.20 327.41L223.70 328.82L224.20 700.00L224.70 334.12L225.20 700.00L225.70 700.00L226.20 700.00L226.70 700.00L227.20 326.93L227.70 324.97L228.20 700.00L228.70 700.00L229.20 700.00L229.70 700.00L230.20 700.00L230.70 700.00L231.20 700.00L231.70 700.00L232.20 329.46L232.70 700.00L233.20 700.00L233.70 700.00L234.20 700.00L234.70 700.00L235.20 329.92L235.70 330.01L236.20 331.43L236.70 329.49L237.20 700.00L237.70 323.16L238.20 700.00L238.70 700.00L239.20 374.82L239.70 700.00L240.20 329.75L240.70 328.99L241.20 700.00L241.90 345.00L242.60 331.00L243.50 326.00L244.30 323.70L245.20 320.80L246.80 318.30L247.70 312.50L249.75 310.40L251.00 312.50L252.70 314.20L254.30 315.80L256.00 316.70L256.80 321.70L257.70 328.30L258.90 336.00L259.30 334.78L259.70 333.28L260.10 331.57L260.50 329.69L260.90 327.51L261.30 324.88L261.70 322.29L262.10 320.08L262.50 318.05L262.90 316.05L263.30 313.90L263.70 311.61L264.10 309.35L264.50 307.29L264.90 305.35L265.30 303.49L265.70 301.69L266.10 299.94L266.50 298.18L266.90 296.31L267.30 294.55L267.70 293.17L268.10 292.33L268.50 291.62L268.90 290.98L269.30 290.45L269.70 290.05L270.10 289.81L270.50 289.76L270.90 289.96L271.30 290.38L271.70 290.99L272.10 291.74L272.50 292.59L272.90 293.50L273.30 294.70L273.70 296.35L274.10 298.32L274.50 300.45L274.90 302.86L275.30 305.77L275.70 308.65L276.10 311.05L276.50 313.19L276.90 315.47L277.30 318.50L277.70 322.68L278.10 325.80L278.50 327.46L278.90 328.71L279.30 329.20L279.70 328.23L280.11 326.33L280.51 323.88L280.92 320.28L281.32 315.70L281.72 312.72L282.13 310.33L282.53 308.14L282.93 306.19L283.34 304.07L283.74 301.23L284.15 297.96L284.55 294.69L284.95 291.59L285.36 288.51L285.76 285.58L286.16 282.85L286.57 280.22L286.97 277.57L287.38 274.78L287.78 271.90L288.18 268.99L288.59 266.13L288.99 263.29L289.39 260.37L289.80 257.75L290.20 255.76L290.61 253.93L291.01 252.34L291.41 251.21L291.82 250.72L292.22 250.46L292.62 250.28L293.03 250.20L293.43 250.32L293.84 250.74L294.24 251.43L294.64 252.32L295.05 253.36L295.45 255.01L295.85 257.69L296.26 260.70L296.66 263.75L297.07 267.13L297.47 270.78L297.87 274.59L298.28 278.59L298.68 283.15L299.08 289.10L299.49 296.91L299.89 301.89L300.30 305.79L300.70 308.10L301.10 306.39L301.50 303.39L301.89 299.58L302.29 294.70L302.69 287.95L303.09 280.12L303.49 272.65L303.88 266.93L304.28 261.98L304.68 257.69L305.08 254.01L305.48 250.88L305.87 248.18L306.27 245.81L306.67 243.58L307.07 241.65L307.47 239.25L307.86 234.84L308.26 230.37L308.66 226.63L309.06 223.17L309.46 219.95L309.85 216.90L310.25 213.81L310.65 211.04L311.05 209.12L311.45 207.82L311.85 206.80L312.24 206.08L312.64 205.57L313.04 205.13L313.44 204.83L313.84 204.76L314.23 205.00L314.63 205.47L315.03 206.04L315.43 206.83L315.83 207.93L316.22 209.38L316.62 211.43L317.02 213.81L317.42 216.19L317.82 218.60L318.21 221.28L318.61 224.44L319.01 228.31L319.41 233.85L319.81 243.72L320.20 252.86L320.60 258.69L321.00 262.80L321.40 260.48L321.80 255.69L322.20 249.52L322.60 239.86L323.00 230.12L323.40 223.62L323.80 218.12L324.20 213.04L324.60 208.46L325.00 203.92L325.40 199.58L325.80 196.82L326.20 194.88L326.60 193.36L327.00 192.07L327.40 190.90L327.80 189.88L328.20 189.02L328.60 188.35L329.00 187.79L329.40 187.34L329.80 187.00L330.20 186.72L330.60 186.49L331.00 186.40L331.40 186.53L331.80 186.88L332.20 187.35L332.60 187.87L333.00 188.42L333.40 189.12L333.80 189.91L334.20 190.78L334.60 191.68L335.00 192.66L335.40 193.82L335.80 195.29L336.20 197.29L336.60 199.95L337.00 203.57L337.40 207.46L337.80 211.54L338.20 215.88L338.60 220.46L339.00 225.21L339.40 230.52L339.80 237.50L340.20 246.03L340.60 252.80L341.00 257.07L341.40 259.90L341.80 258.52L342.19 254.98L342.59 250.14L342.99 242.65L343.38 232.31L343.78 224.72L344.18 217.94L344.58 211.45L344.97 204.85L345.37 198.83L345.77 194.22L346.16 190.38L346.56 187.44L346.96 185.57L347.35 184.13L347.75 182.98L348.15 182.03L348.55 181.20L348.94 180.46L349.34 179.85L349.74 179.36L350.13 178.97L350.53 178.62L350.93 178.37L351.32 178.31L351.72 178.59L352.12 179.16L352.52 179.83L352.91 180.73L353.31 181.92L353.71 183.17L354.10 184.36L354.50 185.57L354.90 186.82L355.30 188.15L355.69 189.59L356.09 191.12L356.49 192.77L356.88 194.73L357.28 197.22L357.68 200.54L358.07 204.59L358.47 209.21L358.87 214.34L359.26 221.15L359.66 228.35L360.06 234.11L360.46 239.04L360.85 243.39L361.25 247.00L361.65 244.12L362.04 240.17L362.44 235.42L362.84 230.02L363.23 222.94L363.63 215.05L364.02 206.59L364.42 198.08L364.82 194.70L365.21 192.93L365.61 191.69L366.01 190.66L366.40 189.56L366.80 188.43L367.20 187.48L367.59 186.90L367.99 186.49L368.39 186.26L368.78 186.37L369.18 186.83L369.57 187.49L369.97 188.27L370.37 189.39L370.76 190.68L371.16 192.02L371.56 193.52L371.95 195.27L372.35 197.40L372.75 200.05L373.14 203.13L373.54 206.56L373.94 210.33L374.33 214.77L374.73 219.74L375.12 224.99L375.52 230.68L375.92 237.04L376.31 243.35L376.71 248.83L377.11 253.46L377.50 257.60L377.90 261.20L378.30 257.97L378.69 254.20L379.09 249.97L379.48 245.02L379.88 239.06L380.27 233.47L380.67 229.23L381.07 225.71L381.46 222.78L381.86 220.15L382.25 217.92L382.65 216.20L383.04 214.76L383.44 213.57L383.84 212.74L384.23 212.09L384.63 211.59L385.02 211.40L385.42 211.63L385.81 212.16L386.21 212.84L386.61 213.68L387.00 214.89L387.40 216.38L387.79 218.21L388.19 220.57L388.59 223.20L388.98 225.78L389.38 228.39L389.77 231.72L390.17 237.29L390.56 244.63L390.96 251.12L391.36 256.75L391.75 262.25L392.15 268.15L392.54 274.96L392.94 282.32L393.33 289.29L393.73 295.98L394.13 302.21L394.52 308.00L394.92 313.59L395.31 318.29L395.71 321.62L396.10 324.25L396.50 326.00L397.30 700.00L397.80 700.00L398.30 700.00L398.80 700.00L399.30 700.00L399.80 700.00L400.30 358.35L400.80 700.00L401.30 328.57L401.80 360.15L402.30 700.00L402.80 326.37L403.30 700.00L403.80 700.00L404.30 321.19L404.80 323.10L405.30 322.39L405.80 321.41L406.30 323.45L406.80 700.00L407.30 700.00L407.80 700.00L408.30 700.00L408.80 337.54L409.30 700.00L409.80 331.01L410.30 333.30L410.80 331.55L411.30 700.00L411.80 700.00L412.30 700.00L412.80 700.00L413.30 700.00L413.80 330.22L414.30 331.04L414.80 700.00L415.30 356.80L415.80 700.00L416.30 383.49L416.80 700.00L417.30 700.00L417.80 329.80L418.30 330.07L418.80 331.60L419.30 700.00L419.80 342.47L420.30 700.00L420.80 700.00L421.30 350.01L421.80 350.17L422.30 351.29L422.80 331.46L423.30 332.55L423.80 700.00L424.30 700.00L424.80 339.21L425.30 700.00L425.80 700.00L426.30 700.00L426.80 368.91L427.30 700.00L427.80 700.00L428.30 340.34L428.80 339.51L429.30 700.00L429.80 700.00L430.30 700.00L430.80 700.00L431.30 335.53L431.80 367.55L432.30 343.87L432.80 700.00L433.30 700.00L433.80 700.00L434.30 700.00L434.80 337.46L435.30 700.00L435.80 333.78L436.30 335.40L436.80 335.45L437.30 335.40L437.80 360.75L438.30 327.63L438.80 325.80L439.30 327.99L439.80 325.81L440.30 700.00L440.80 337.82L441.30 337.49L441.80 337.19L442.30 336.50L442.80 338.65L443.30 336.91L443.80 337.41L444.30 336.68L444.80 336.98L445.30 338.49L445.80 337.43L446.30 700.00L446.80 336.17L447.30 338.00L447.80 335.95L448.30 337.40L448.80 336.46L449.30 700.00L449.80 369.44L450.30 330.76L450.80 700.00L451.30 329.92L451.80 328.88L452.30 700.00L452.80 700.00L453.30 335.56L453.80 700.00L454.30 700.00L454.80 326.94L455.30 700.00L455.80 700.00L456.30 331.06L456.80 700.00L457.30 700.00L457.80 334.48L458.30 700.00L458.80 700.00L459.30 335.54L459.80 335.39L460.30 700.00L460.80 700.00L461.30 700.00L461.80 326.93L462.30 700.00L462.80 700.00L463.30 336.33L463.80 700.00L464.30 700.00L464.80 700.00L465.30 700.00L465.80 700.00L466.30 700.00L466.80 334.50L467.30 700.00L467.80 700.00L468.30 331.20L468.80 700.00L469.30 344.78L469.80 343.51L470.30 700.00L470.80 335.55L471.30 337.15L471.80 335.83L472.30 700.00L472.80 700.00L473.30 700.00L473.80 700.00L474.30 340.43L474.80 340.60L475.30 340.76L475.80 341.36L476.30 358.38L476.80 700.00L477.30 338.46L477.80 337.34L478.30 338.74L478.80 700.00L479.30 700.00L479.80 338.67L480.30 337.90L480.80 700.00L481.30 338.16L481.80 700.00L482.30 337.16L482.80 700.00L483.30 338.04L483.80 340.24L484.30 339.61L484.80 338.57L485.30 700.00L485.80 700.00L486.30 700.00L486.80 700.00L487.30 335.51L487.80 354.63L488.30 370.22L488.80 345.66L489.30 345.67L489.80 700.00L490.30 700.00L490.80 700.00L491.30 700.00L491.80 354.14L492.30 700.00L492.80 700.00L493.30 700.00L493.80 700.00L494.30 700.00L494.80 700.00L495.30 700.00L495.80 338.23L496.30 337.13L496.80 337.07L497.30 338.56L497.80 337.87L498.30 700.00L498.80 700.00L499.30 364.25L499.80 333.23L500.30 335.39L500.80 700.00L501.30 700.00L501.80 700.00L502.30 700.00L502.80 700.00L503.30 700.00L503.80 700.00L504.30 700.00L504.80 335.89L505.30 334.93L505.80 700.00L506.30 335.24L506.80 335.10L507.30 334.64L507.80 335.47L508.30 335.42L508.80 700.00L509.30 700.00L509.80 700.00L510.30 340.09L510.80 700.00L511.30 336.80L511.80 700.00L512.30 370.89L512.80 338.28L513.30 337.86L513.80 700.00L514.30 339.82L514.80 341.51L515.30 341.73L515.80 700.00L516.30 700.00L516.80 340.02L517.30 352.44L517.80 700.00L518.30 700.00L518.80 332.99L519.30 331.29L519.80 700.00L520.30 700.00L520.80 700.00L521.30 700.00L521.80 336.35L522.30 334.95L522.80 336.13L523.30 700.00L523.80 349.32L524.30 348.08L524.80 346.92L525.30 700.00L525.80 700.00L526.30 357.02L526.80 700.00L527.30 700.00L527.80 700.00L528.30 343.54L528.80 700.00L529.30 335.54L529.80 700.00L530.30 336.51L530.80 335.40L531.30 700.00L531.80 700.00L532.30 700.00L532.80 700.00L533.30 700.00L533.80 354.07L534.30 700.00L534.80 336.33L535.30 368.20L535.80 700.00L536.30 700.00L536.80 700.00L537.30 336.79L537.80 337.21L538.30 700.00L538.80 332.55L539.30 700.00L539.80 370.41L540.30 700.00L540.80 700.00L541.30 700.00L541.80 353.78L542.30 330.64L542.80 329.69L543.30 329.81L543.80 700.00L544.30 355.96L544.80 700.00L545.30 700.00L545.80 700.00L546.30 700.00L546.80 700.00L547.30 700.00L547.80 325.25L548.30 325.94L548.80 325.18L549.30 326.03L549.80 325.51L550.30 700.00L550.80 700.00L551.30 335.76L551.80 335.75L552.30 334.51L552.80 336.11L553.30 334.12L553.80 700.00L554.30 330.58L554.80 700.00L555.30 700.00L555.80 700.00L556.30 347.82L556.80 346.94L557.30 347.65L557.80 346.97L558.30 347.76L558.80 357.65L559.30 332.48L559.80 700.00L560.30 367.43L560.80 700.00L561.30 339.16L561.80 339.09L562.30 700.00L562.80 345.38L563.30 347.45L563.80 700.00L564.30 339.85L564.80 700.00L565.30 700.00L565.80 340.23L566.30 377.93L566.80 700.00L567.30 337.63L567.80 339.06L568.30 338.47L568.80 336.87L569.30 337.12L569.80 384.55L570.30 700.00L570.80 700.00L571.30 700.00L571.80 343.44L572.30 700.00L572.80 700.00L573.30 366.86L573.80 700.00L574.30 330.30L574.80 331.14L575.30 331.96L575.80 700.00L576.30 368.35L576.80 700.00L577.30 348.41L577.80 700.00L578.30 700.00L578.80 700.00L579.30 326.08L579.80 700.00L580.30 340.70L580.80 357.38L581.30 700.00L581.80 700.00L582.30 700.00L582.80 700.00L583.30 336.31L583.80 337.43L584.30 335.72L584.80 336.67L585.30 700.00L585.80 355.26L586.30 700.00L586.80 342.59L587.30 342.03L587.80 700.00L588.30 700.00L588.80 343.88L589.30 376.67L589.80 343.47L590.30 700.00L590.80 330.20L591.30 329.87L591.80 700.00L592.30 327.87L592.80 329.50L593.30 700.00L593.80 700.00L594.30 336.70L594.80 700.00L595.30 700.00L595.80 700.00L596.30 700.00L596.80 700.00L597.30 700.00L597.80 338.29L598.30 339.84L598.80 700.00L599.30 700.00L599.80 357.57L600.30 339.36L600.80 341.37L601.30 342.07L601.80 700.00L602.30 700.00L602.80 700.00L603.30 355.20L603.80 378.32L604.30 332.86L604.80 334.21L605.30 700.00L605.80 335.30L606.30 700.00L606.80 700.00L607.30 700.00L607.80 700.00L608.30 700.00L608.80 372.57L609.30 700.00L609.80 700.00L610.30 700.00L610.80 345.32L611.30 700.00L611.80 344.70L612.30 346.60L612.80 700.00L613.30 329.45L613.80 700.00L614.30 700.00L614.80 343.93L615.30 700.00L615.80 700.00L616.30 340.23L616.80 700.00L617.30 700.00L617.80 700.00L618.30 338.20L618.80 700.00L619.30 700.00L619.80 700.00L620.30 700.00L620.80 700.00L621.30 700.00L621.80 700.00L622.30 361.31L622.80 341.69L623.30 343.29L623.80 342.89L624.30 342.46L624.80 343.23L625.30 343.90L625.80 343.40L626.30 700.00L626.80 343.38L627.30 700.00L627.80 700.00L628.30 340.83L628.80 339.43L629.30 700.00L629.80 700.00L630.30 700.00L630.80 363.04L631.30 332.31L631.80 700.00L632.30 700.00L632.80 365.79L633.30 700.00L633.80 341.08L634.30 341.77L634.80 343.28L635.30 700.00L635.80 330.88L636.30 331.91L636.80 332.56L637.30 332.93L637.80 700.00L638.30 700.00L638.80 331.87L639.30 700.00L639.80 700.00L640.30 700.00L640.80 700.00L641.30 342.53L641.80 700.00L642.30 700.00L642.80 700.00L643.30 334.77L643.80 700.00L644.30 700.00L644.80 700.00L645.30 328.08L645.80 700.00L646.30 336.00L646.80 700.00L647.30 700.00L647.80 345.13L648.30 344.86L648.80 700.00"/>
</g>
<rect x="90.5" y="52.5" width="558.0" height="326.0" fill="none" stroke="#d0d0d0" stroke-width="1" shape-rendering="crispEdges"/>
<g font-family='"Liberation Sans", Arial, sans-serif' font-size="13.2" letter-spacing="0" text-rendering="geometricPrecision" fill="#111111" stroke="#111111" stroke-width="0.25">
<text transform="translate(144.15 391.6) scale(1.05 1.18)" text-anchor="middle">842</text>
<text transform="translate(221.65 391.6) scale(1.05 1.18)" text-anchor="middle">844</text>
<text transform="translate(299.15 391.6) scale(1.05 1.18)" text-anchor="middle">846</text>
<text transform="translate(376.65 391.6) scale(1.05 1.18)" text-anchor="middle">848</text>
<text transform="translate(454.15 391.6) scale(1.05 1.18)" text-anchor="middle">850</text>
<text transform="translate(531.65 391.6) scale(1.05 1.18)" text-anchor="middle">852</text>
<text transform="translate(609.15 391.6) scale(1.05 1.18)" text-anchor="middle">854</text>
<text transform="translate(86.70 353.95) scale(1.05 1.18)" text-anchor="end">−80</text>
<text transform="translate(86.70 294.65) scale(1.05 1.18)" text-anchor="end">−60</text>
<text transform="translate(86.70 235.35) scale(1.05 1.18)" text-anchor="end">−40</text>
<text transform="translate(86.70 176.04) scale(1.05 1.18)" text-anchor="end">−20</text>
<text transform="translate(86.70 116.74) scale(1.05 1.18)" text-anchor="end">0</text>
<text transform="translate(86.00 57.44) scale(1.05 1.18)" text-anchor="end">20</text>
</g>
<g font-family='"Liberation Sans", Arial, sans-serif' font-size="17.28" fill="#111111" stroke="#111111" stroke-width="0.2">
<text x="368.6" y="46.0" text-anchor="middle">D4529 V20444 Ch. 7</text>
<text x="369.0" y="412.0" text-anchor="middle">Wavelength [nm]</text>
<text transform="translate(53.6 215.8) rotate(-90)" text-anchor="middle">Optical Power [dB]</text>
</g>
<rect x="97.5" y="59.5" width="147.0" height="68.0" rx="2.8" ry="2.8" fill="#ffffff" fill-opacity="0.8" stroke="#cccccc" stroke-opacity="0.8" stroke-width="1"/>
<g font-family='"Liberation Sans", Arial, sans-serif' font-size="14.4" fill="#111111" stroke="#111111" stroke-width="0.18">
<path d="M103.25 71.0H131.75" stroke="#bcbd22" stroke-width="1.5" stroke-linecap="square" fill="none"/>
<text x="143.0" y="76.0">OptoBoard QA</text>
<path d="M103.25 92.0H131.75" stroke="#ff7f0e" stroke-width="1.5" stroke-linecap="square" fill="none"/>
<text x="143.0" y="97.0">Post Burn-In</text>
<path d="M103.25 113.0H131.75" stroke="#d62728" stroke-width="1.5" stroke-linecap="square" fill="none"/>
<text x="143.0" y="118.0">Pre Burn-In</text>
</g>
</svg>
</body></html>
